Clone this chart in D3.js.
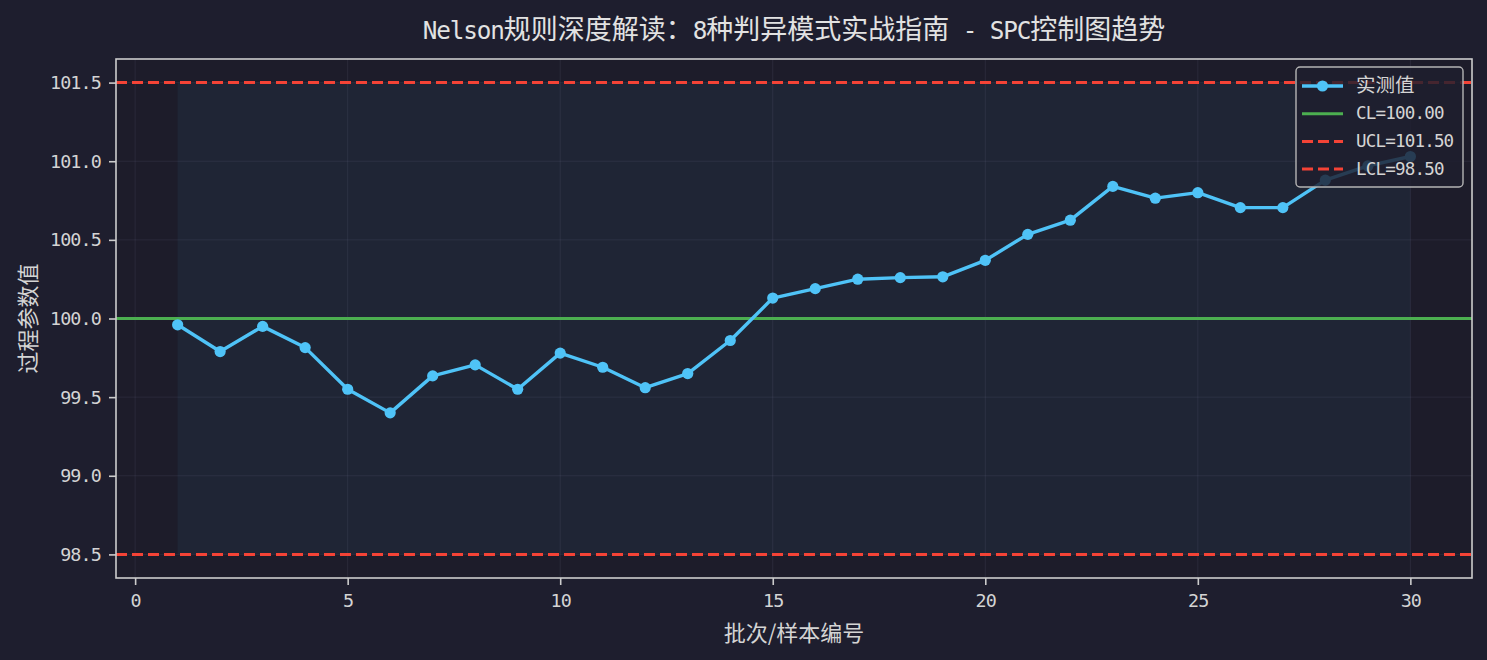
<!DOCTYPE html>
<html>
<head>
<meta charset="utf-8">
<script src="https://cdn.jsdelivr.net/npm/d3@7/dist/d3.min.js"></script>
<style>
	html, body { margin: 0; padding: 0; background: #1e1e2e; }
	svg { display: block; }
	text { white-space: pre; }
</style>
</head>
<body>
<svg id="svg-port" width="1487" height="660"></svg>
<script>
// values
const batches = [1, 2, 3, 4, 5, 6, 7, 8, 9, 10, 11, 12, 13, 14, 15, 16, 17, 18, 19, 20, 21, 22, 23, 24, 25, 26, 27, 28, 29, 30];
const measured = [99.96, 99.79, 99.95, 99.815, 99.55, 99.40, 99.635, 99.705, 99.55, 99.78,
	99.69, 99.56, 99.65, 99.86, 100.13, 100.19, 100.25, 100.26, 100.265, 100.37,
	100.535, 100.625, 100.84, 100.765, 100.80, 100.705, 100.705, 100.88, 100.97, 101.03];
const CL = 100.0, UCL = 101.5, LCL = 98.5;
const xTicks = [0, 5, 10, 15, 20, 25, 30];
const yTicks = [98.5, 99.0, 99.5, 100.0, 100.5, 101.0, 101.5];
const legendLabels = ['实测值', 'CL=100.00', 'UCL=101.50', 'LCL=98.50'];
const titleText = 'Nelson规则深度解读：8种判异模式实战指南 - SPC控制图趋势';
const xLabel = '批次/样本编号';
const yLabel = '过程参数值';

const CJK = '"Noto Sans CJK SC", "Noto Sans", sans-serif';
const MONO = '"DejaVu Sans Mono", "Liberation Mono", monospace';
const fg = '#d4d4d4';

// latin runs in a mono face squeezed to half width, like SimHei
function mixedText(sel, str, size) {
	const runs = str.match(/[\x20-\x7e]+|[^\x20-\x7e]+/g);
	runs.forEach(function (r) {
		const ascii = /^[\x20-\x7e]+$/.test(r);
		sel.append('tspan')
			.attr('font-family', ascii ? MONO : CJK)
			.attr('font-size', ascii ? size * 0.9 : size)
			.attr('letter-spacing', ascii ? -0.042 * size : 0)
			.text(r);
	});
	return sel;
}

const svg = d3.select('#svg-port');
const plot = { left: 116, right: 1472, top: 59, bottom: 578 };

const x = d3.scaleLinear().domain([-0.45, 31.45]).range([plot.left, plot.right]);
const y = d3.scaleLinear().domain([98.35, 101.65]).range([plot.bottom, plot.top]);

svg.append('rect')
	.attr('width', 1487).attr('height', 660)
	.attr('fill', '#1e1e2e');

svg.append('rect')
	.attr('x', plot.left).attr('y', plot.top)
	.attr('width', plot.right - plot.left).attr('height', plot.bottom - plot.top)
	.attr('fill', '#1d1c2a');

// control zone shading
svg.append('rect')
	.attr('x', x(batches[0]))
	.attr('y', y(UCL))
	.attr('width', x(batches[batches.length - 1]) - x(batches[0]))
	.attr('height', y(LCL) - y(UCL))
	.attr('fill', '#4fc3f7')
	.attr('fill-opacity', 0.055);

// grid
const grid = svg.append('g').attr('class', 'grid')
	.attr('stroke', '#8888aa').attr('stroke-opacity', 0.12).attr('stroke-width', 1);
xTicks.forEach(function (t) {
	grid.append('line')
		.attr('x1', x(t)).attr('x2', x(t))
		.attr('y1', plot.top).attr('y2', plot.bottom);
});
yTicks.forEach(function (t) {
	grid.append('line')
		.attr('x1', plot.left).attr('x2', plot.right)
		.attr('y1', y(t)).attr('y2', y(t));
});

const limits = [
	{ v: CL, color: '#4caf50', dash: null },
	{ v: UCL, color: '#f44336', dash: '11,5' },
	{ v: LCL, color: '#f44336', dash: '11,5' }
];
svg.append('g').selectAll('line')
	.data(limits)
	.enter().append('line')
	.attr('x1', plot.left).attr('x2', plot.right)
	.attr('y1', d => y(d.v)).attr('y2', d => y(d.v))
	.attr('stroke', d => d.color)
	.attr('stroke-width', 3)
	.attr('stroke-dasharray', d => d.dash);

const points = batches.map((b, i) => ({ b: b, v: measured[i] }));
const line = d3.line().x(d => x(d.b)).y(d => y(d.v));

svg.append('path')
	.datum(points)
	.attr('d', line)
	.attr('fill', 'none')
	.attr('stroke', '#4fc3f7')
	.attr('stroke-width', 3.4)
	.attr('stroke-linejoin', 'round');

svg.append('g').selectAll('circle')
	.data(points)
	.enter().append('circle')
	.attr('cx', d => x(d.b))
	.attr('cy', d => y(d.v))
	.attr('r', 5.6)
	.attr('fill', '#4fc3f7');

// axes
const xAxis = svg.append('g')
	.attr('transform', 'translate(0,' + plot.bottom + ')')
	.call(d3.axisBottom(x).tickValues(xTicks).tickFormat(d3.format('d')).tickSize(7).tickPadding(9));
const yAxis = svg.append('g')
	.attr('transform', 'translate(' + plot.left + ',0)')
	.call(d3.axisLeft(y).tickValues(yTicks).tickFormat(d3.format('.1f')).tickSize(7).tickPadding(8));

[xAxis, yAxis].forEach(function (ax) {
	ax.select('.domain').remove();
	ax.selectAll('.tick line').attr('stroke', '#cccccc').attr('stroke-width', 1.6);
	ax.selectAll('.tick text')
		.attr('fill', fg)
		.attr('font-family', MONO)
		.attr('font-size', 18.4)
		.attr('letter-spacing', -0.86);
});
xAxis.selectAll('.tick text').attr('dy', '0.71em');

svg.append('rect')
	.attr('x', plot.left).attr('y', plot.top)
	.attr('width', plot.right - plot.left).attr('height', plot.bottom - plot.top)
	.attr('fill', 'none')
	.attr('stroke', '#cccccc')
	.attr('stroke-width', 1.6);

// title and axis labels
mixedText(svg.append('text')
	.attr('x', (plot.left + plot.right) / 2)
	.attr('y', 39)
	.attr('text-anchor', 'middle')
	.attr('fill', '#e2e2e2'), titleText, 27);

svg.append('text')
	.attr('x', (plot.left + plot.right) / 2)
	.attr('y', 641)
	.attr('text-anchor', 'middle')
	.attr('fill', fg)
	.attr('font-family', CJK)
	.attr('font-size', 22)
	.text(xLabel);

svg.append('text')
	.attr('transform', 'translate(36,' + (plot.top + plot.bottom) / 2 + ') rotate(-90)')
	.attr('text-anchor', 'middle')
	.attr('fill', fg)
	.attr('font-family', CJK)
	.attr('font-size', 22)
	.text(yLabel);

// legend
const legend = svg.append('g').attr('transform', 'translate(1296,67)');
legend.append('rect')
	.attr('width', 167).attr('height', 120)
	.attr('rx', 4)
	.attr('fill', '#1e1e2e').attr('fill-opacity', 0.82)
	.attr('stroke', '#b4b4b4').attr('stroke-width', 1.4);

const legendItems = [
	{ label: legendLabels[0], color: '#4fc3f7', dash: null, marker: true },
	{ label: legendLabels[1], color: '#4caf50', dash: null, marker: false },
	{ label: legendLabels[2], color: '#f44336', dash: '11,5', marker: false },
	{ label: legendLabels[3], color: '#f44336', dash: '11,5', marker: false }
];
legendItems.forEach(function (d, i) {
	const row = legend.append('g').attr('transform', 'translate(0,' + (19 + i * 27.7) + ')');
	row.append('line')
		.attr('x1', 6).attr('x2', 47)
		.attr('stroke', d.color)
		.attr('stroke-width', d.marker ? 3.4 : 3)
		.attr('stroke-dasharray', d.dash);
	if (d.marker) row.append('circle').attr('cx', 26.5).attr('r', 5.6).attr('fill', d.color);
	mixedText(row.append('text')
		.attr('x', 60)
		.attr('dy', '0.36em')
		.attr('fill', fg), d.label, 19.5);
});
</script>
</body>
</html>
